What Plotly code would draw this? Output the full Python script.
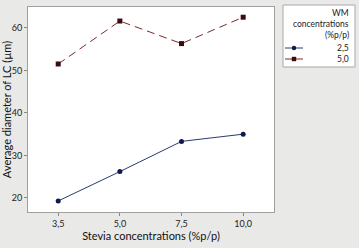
import plotly.graph_objects as go

stevia = ["3,5", "5,0", "7,5", "10,0"]
wm_25 = [19.3, 26.2, 33.3, 35.0]
wm_50 = [51.5, 61.6, 56.3, 62.5]
series_names = ["2,5", "5,0"]
legend_title = ["WM", "concentrations", "(%p/p)"]

BLUE_LINE = "#2c3a6e"
BLUE_MK = "#0f1a4a"
RED_LINE = "#7a2a2a"
RED_MK = "#3a0c10"
FONT = "Lato, Liberation Sans"

W, H = 359, 248
L, R, T, B = 28, 85, 7, 36
pw, ph = W - L - R, H - T - B

def px(x):
    return (x - L) / pw

def py(y):
    return (H - B - y) / ph

fig = go.Figure()
fig.add_trace(go.Scatter(x=stevia, y=wm_25, mode="lines+markers", name=series_names[0],
                         line=dict(color=BLUE_LINE, width=1),
                         marker=dict(symbol="circle", size=5, color=BLUE_MK)))
fig.add_trace(go.Scatter(x=stevia, y=wm_50, mode="lines+markers", name=series_names[1],
                         line=dict(color=RED_LINE, width=1, dash="8px,5px"),
                         marker=dict(symbol="square", size=5, color=RED_MK)))

fig.update_layout(
    width=W, height=H,
    margin=dict(l=L, r=R, t=T, b=B, pad=0, autoexpand=False),
    paper_bgcolor="#e9e9e7",
    plot_bgcolor="white",
    showlegend=False,
    hovermode=False,
    font=dict(family=FONT, size=9, color="#222"),
)
fig.update_xaxes(range=[-0.49, 3.5], showgrid=False, zeroline=False, automargin=False,
                 showline=True, mirror=True, linecolor="#a0a0a0", linewidth=1,
                 ticks="outside", ticklen=3, tickcolor="#888",
                 tickfont=dict(size=9, family=FONT),
                 title=dict(text="Stevia concentrations (%p/p)", font=dict(size=11, family=FONT, color="#111"), standoff=4))
fig.update_yaxes(range=[16.7, 64.9], tickvals=[20, 30, 40, 50, 60], showgrid=False, zeroline=False, automargin=False,
                 showline=True, mirror=True, linecolor="#a0a0a0", linewidth=1,
                 ticks="outside", ticklen=3, tickcolor="#888",
                 tickfont=dict(size=9, family=FONT),
                 title=dict(text="Average diameter of LC (µm)", font=dict(size=11, family=FONT, color="#111"), standoff=3))

# Legend box
shapes = [dict(type="rect", xref="paper", yref="paper",
               x0=px(283), x1=px(355), y0=py(67), y1=py(5),
               fillcolor="white", line=dict(color="#a8a8a8", width=1), layer="below")]
for i, t in enumerate(legend_title):
    fig.add_annotation(text=t, xref="paper", yref="paper", x=px(351), y=py([13, 24, 35][i]),
                       xanchor="right", yanchor="middle", showarrow=False,
                       font=dict(size=8.5, family=FONT, color="#222"))
entry_y = [48, 59]
cols = [(BLUE_LINE, BLUE_MK), (RED_LINE, RED_MK)]
for i, name in enumerate(series_names):
    fig.add_annotation(text=name, xref="paper", yref="paper", x=px(351), y=py(entry_y[i]),
                       xanchor="right", yanchor="middle", showarrow=False,
                       font=dict(size=8.5, family=FONT, color="#222"))
    shapes.append(dict(type="line", xref="paper", yref="paper",
                       x0=px(285), x1=px(303), y0=py(entry_y[i]), y1=py(entry_y[i]),
                       line=dict(color=cols[i][0], width=1)))
    s = 2.2
    shapes.append(dict(type="circle" if i == 0 else "rect", xref="paper", yref="paper",
                       x0=px(294 - s), x1=px(294 + s), y0=py(entry_y[i] + s), y1=py(entry_y[i] - s),
                       fillcolor=cols[i][1], line=dict(color=cols[i][1], width=0)))
fig.update_layout(shapes=shapes)

fig.write_html("out.html", config={"displayModeBar": False, "staticPlot": True},
               post_script="document.body.style.margin='0';document.body.style.background='#e9e9e7';")
